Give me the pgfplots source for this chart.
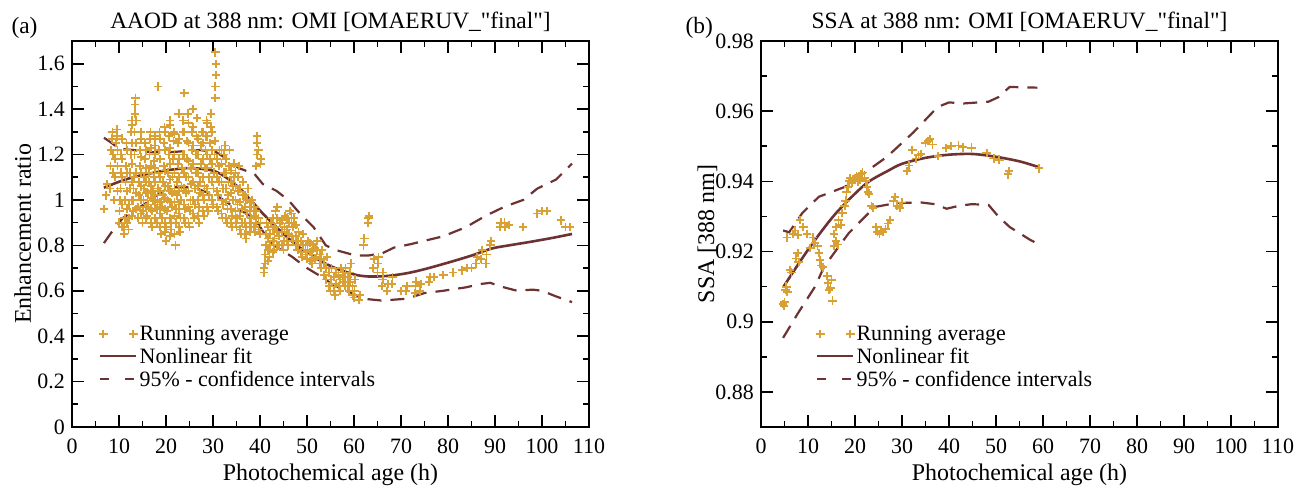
\documentclass[border=0pt]{standalone}
\usepackage{fontspec}
\setmainfont{Liberation Serif}[Ligatures=TeXOff]
\usepackage{pgfplots}
\pgfplotsset{compat=1.18}
\definecolor{gold}{HTML}{D9A033}
\definecolor{brn}{HTML}{6E3232}
\newcommand{\tickfont}{\fontsize{22}{26}\selectfont}
\newcommand{\labfont}{\fontsize{24}{28}\selectfont}
\newcommand{\titfont}{\fontsize{23.5}{28}\selectfont}
\pgfplotsset{
  panel/.style={
    scale only axis, width=517bp, height=386bp,
    xmin=0, xmax=110,
    xtick={0,10,...,110}, minor xtick={5,15,...,105},
    tick align=inside,
    major tick length=12bp, minor tick length=6bp,
    tick style={line width=1.6bp, black},
    axis line style={line width=2.4bp},
    /pgf/number format/assume math mode=true,
    tick label style={font=\tickfont},
    xticklabel style={anchor=base, yshift=-26bp, inner sep=0pt},
    yticklabel style={anchor=east, inner xsep=0pt, xshift=-7bp},
    xlabel style={font=\labfont, at={(axis description cs:0.5,0)}, anchor=base, yshift=-53bp},
    title style={font=\titfont, at={(axis description cs:0.5,1)}, anchor=base, yshift=7bp},
    legend cell align=left,
    legend style={draw=none, fill=none, font=\fontsize{22}{26}\selectfont, anchor=north west,
      row sep=2bp, inner sep=0pt, /tikz/every even column/.style={column sep=1bp}},
  },
  scat/.style={only marks, mark=+, color=gold, draw=gold, mark size=4.2bp, mark options={gold, solid, line width=1.8bp},
    legend image code/.code={\draw[gold] plot[only marks, mark=+, mark size=4.2bp, mark options={gold, solid, line width=1.8bp}] coordinates {(3bp,0bp) (33bp,0bp)};}},
  fit/.style={brn, line width=2.6bp, smooth, no marks,
    legend image code/.code={\draw[brn, line width=2.6bp] (0bp,0bp) -- (36bp,0bp);}},
  ci/.style={brn, line width=2.2bp, no marks, dash pattern=on 14bp off 9bp,
    legend image code/.code={\draw[brn, line width=2.2bp, dash pattern=on 9bp off 16bp] (0bp,0bp) -- (36bp,0bp);}},
}
\begin{document}
\begin{tikzpicture}
\begin{axis}[panel, at={(72bp,63bp)}, anchor=south west,
  ymin=0, ymax=1.7, ytick={0,0.2,...,1.6}, minor ytick={0.1,0.3,0.5,0.7,0.9,1.1,1.3,1.5},
  title={AAOD at 388 nm: OMI [OMAERUV\_"final"]},
  xlabel={Photochemical age (h)},
  ylabel={Enhancement ratio},
  ylabel style={font=\labfont, at={(axis description cs:0,0.5)}, anchor=base, yshift=41bp},
  legend style={at={(0.052,0.268)}},
  after end axis/.code={\node[font=\titfont, anchor=base west] at (rel axis cs:0,1) [xshift=-64bp, yshift=7bp] {(a)};},
]
\addplot[scat] coordinates {
(6.8,0.96) (7.2,1.02) (7.5,1.07)
(8.0,1.05) (8.2,1.15) (8.3,1.22) (8.5,1.27) (8.6,1.30)
(9.0,1.00) (9.1,1.10) (9.2,1.18) (9.3,1.25) (9.5,1.28) (9.6,1.31)
(10.0,0.90) (10.1,0.95) (10.2,1.00) (10.3,1.05) (10.4,1.12) (10.5,1.20) (10.6,1.27)
(11.0,0.85) (11.1,0.88) (11.2,0.92) (11.3,1.00) (11.4,1.08) (11.5,1.15) (11.6,1.25)
(12.0,0.87) (12.1,0.92) (12.2,0.98) (12.3,1.05) (12.4,1.12) (12.5,1.20) (12.6,1.30) (12.7,1.35)
(13.0,0.95) (13.0,1.00) (13.1,1.05) (13.2,1.10) (13.3,1.20) (13.3,1.30) (13.4,1.38) (13.4,1.42) (13.5,1.45)
(14.0,0.92) (14.1,0.97) (14.2,1.02) (14.3,1.08) (14.4,1.15) (14.5,1.22) (14.6,1.30)
(15.0,0.90) (15.1,0.95) (15.2,1.00) (15.3,1.05) (15.4,1.10) (15.5,1.18) (15.6,1.25)
(16.0,0.93) (16.1,0.98) (16.2,1.03) (16.3,1.08) (16.4,1.12) (16.5,1.20) (16.6,1.27) (16.7,1.30)
(17.0,0.88) (17.1,0.95) (17.2,1.00) (17.3,1.04) (17.4,1.10) (17.5,1.17) (17.6,1.24)
(18.0,0.90) (18.1,0.96) (18.2,1.00) (18.3,1.05) (18.4,1.12) (18.5,1.22) (18.6,1.30) (18.3,1.50)
(19.0,0.85) (19.1,0.92) (19.2,0.97) (19.3,1.02) (19.4,1.08) (19.5,1.15) (19.6,1.25) (19.7,1.32)
(20.0,0.82) (20.1,0.88) (20.2,0.95) (20.3,1.00) (20.4,1.06) (20.5,1.12) (20.6,1.20) (20.7,1.28) (20.8,1.35)
(21.0,0.87) (21.1,0.90) (21.2,0.97) (21.3,1.03) (21.4,1.10) (21.5,1.18) (21.6,1.26) (21.7,1.30)
(22.0,0.80) (22.1,0.90) (22.2,0.96) (22.3,1.02) (22.4,1.08) (22.5,1.16) (22.6,1.25) (22.7,1.38)
(23.0,0.86) (23.1,0.92) (23.2,1.00) (23.3,1.06) (23.4,1.14) (23.5,1.20) (23.6,1.30) (23.7,1.35)
(24.0,0.90) (24.1,0.96) (24.2,1.03) (24.3,1.10) (24.4,1.18) (24.5,1.26) (24.6,1.38) (23.9,1.47)
(25.0,0.88) (25.1,0.95) (25.2,1.00) (25.3,1.07) (25.4,1.14) (25.5,1.22) (25.6,1.30) (25.7,1.40)
(26.0,0.92) (26.1,0.98) (26.2,1.05) (26.3,1.12) (26.4,1.20) (26.5,1.28) (26.6,1.36)
(27.0,0.90) (27.1,0.97) (27.2,1.03) (27.3,1.08) (27.4,1.16) (27.5,1.24) (27.6,1.30)
(28.0,0.93) (28.1,1.00) (28.2,1.06) (28.3,1.14) (28.4,1.22) (28.5,1.28) (28.6,1.35)
(29.0,0.95) (29.1,1.02) (29.2,1.10) (29.3,1.18) (29.4,1.25) (29.5,1.32) (29.6,1.38)
(30.0,0.98) (30.1,1.05) (30.2,1.12) (30.3,1.20) (30.4,1.26) (30.5,1.45) (30.5,1.50) (30.6,1.55) (30.6,1.60) (30.5,1.65)
(31.0,0.95) (31.1,1.02) (31.2,1.08) (31.3,1.15) (31.4,1.22)
(32.0,0.92) (32.1,0.98) (32.2,1.05) (32.3,1.12) (32.4,1.20) (32.5,1.24)
(33.0,0.90) (33.1,0.96) (33.2,1.02) (33.3,1.08) (33.4,1.15) (33.5,1.22)
(34.0,0.88) (34.1,0.93) (34.2,1.00) (34.3,1.06) (34.4,1.10) (34.5,1.16)
(35.0,0.88) (35.1,0.92) (35.2,0.98) (35.3,1.04) (35.4,1.10) (35.5,1.15)
(36.0,0.85) (36.1,0.90) (36.2,0.96) (36.3,1.02) (36.4,1.08)
(37.0,0.83) (37.1,0.88) (37.2,0.94) (37.3,1.00) (37.4,1.05)
(38.0,0.88) (38.1,0.92) (38.2,0.97) (38.3,1.00)
(39.0,0.86) (39.1,0.90) (39.2,0.95) (39.2,1.15) (39.3,1.20) (39.3,1.25) (39.4,1.28)
(40.0,0.85) (40.1,0.90) (40.1,1.16) (40.2,1.18)
(40.8,0.68) (40.9,0.70) (41.0,0.72) (41.1,0.76) (41.2,0.80) (41.3,0.85) (41.4,0.90)
(42.0,0.75) (42.1,0.80) (42.2,0.85) (42.3,0.90)
(43.0,0.78) (43.1,0.83) (43.2,0.88) (43.3,0.95)
(44.0,0.80) (44.1,0.84) (44.2,0.90)
(45.0,0.78) (45.1,0.82) (45.2,0.88) (45.3,0.93)
(46.0,0.80) (46.1,0.85) (46.2,0.90) (46.3,0.95)
(47.0,0.82) (47.1,0.88) (47.2,0.92)
(48.0,0.78) (48.1,0.82) (48.2,0.86)
(49.0,0.75) (49.1,0.80) (49.2,0.85)
(50.0,0.74) (50.1,0.78) (50.2,0.82)
(51.0,0.72) (51.1,0.76) (51.2,0.80)
(52.0,0.75) (52.1,0.78) (52.2,0.82)
(53.0,0.70) (53.1,0.74) (53.2,0.78)
(54.0,0.65) (54.1,0.70) (54.2,0.75)
(55.0,0.60) (55.1,0.65) (55.2,0.70)
(56.0,0.58) (56.1,0.63) (56.2,0.68)
(57.0,0.60) (57.1,0.65) (57.2,0.70)
(58.0,0.62) (58.1,0.66) (58.2,0.70)
(59.0,0.60) (59.1,0.64) (59.2,0.68) (59.3,0.72)
(60.0,0.57) (60.1,0.60) (60.2,0.65)
(61.0,0.56) (61.2,0.58)
(62.0,0.80) (62.2,0.83)
(63.0,0.90) (63.1,0.92) (63.2,0.93)
(64.0,0.70) (64.2,0.74)
(65.0,0.68) (65.1,0.72) (65.2,0.75)
(66.0,0.62) (66.1,0.65) (66.2,0.68)
(67.0,0.60) (67.2,0.63)
(68.0,0.63) (68.2,0.66)
(70.0,0.60)
(71.0,0.60) (71.2,0.62)
(73.0,0.59) (73.1,0.62) (73.2,0.64)
(74.0,0.60) (74.2,0.63)
(76.0,0.64) (76.2,0.66)
(77.0,0.66) (79.0,0.67) (81.0,0.68) (83.0,0.69) (84.0,0.70) (85.0,0.70)
(86.0,0.72) (86.2,0.75) (87.0,0.74) (87.2,0.78) (88.0,0.72) (88.2,0.76)
(89.0,0.80) (89.2,0.82)
(91.0,0.88) (91.2,0.90) (92.0,0.90) (92.2,0.88) (93.0,0.89)
(96.0,0.88) (99.0,0.94) (100.0,0.95) (101.0,0.95)
(104.0,0.91) (105.0,0.88) (106.0,0.88)
(8.7,1.12) (8.7,1.20)
(9.7,1.04) (9.7,1.15) (9.7,1.22)
(10.7,0.88) (10.7,0.98) (10.7,1.10) (10.7,1.18)
(11.7,0.90) (11.7,0.96) (11.7,1.04) (11.7,1.12) (11.7,1.22)
(12.8,0.93) (12.8,1.00) (12.8,1.08) (12.8,1.16) (12.8,1.25) (12.8,1.33)
(13.7,0.96) (13.7,1.03) (13.7,1.12) (13.7,1.25) (13.7,1.35)
(14.7,0.94) (14.7,1.00) (14.7,1.06) (14.7,1.12) (14.7,1.19) (14.7,1.27)
(15.7,0.92) (15.7,0.97) (15.7,1.03) (15.7,1.08) (15.7,1.14) (15.7,1.22)
(16.8,0.90) (16.8,0.96) (16.8,1.01) (16.8,1.06) (16.8,1.15) (16.8,1.23)
(17.7,0.92) (17.7,0.98) (17.7,1.02) (17.7,1.08) (17.7,1.14) (17.7,1.20) (17.7,1.28)
(18.8,0.88) (18.8,0.94) (18.8,0.99) (18.8,1.04) (18.8,1.10) (18.8,1.18) (18.8,1.27)
(19.8,0.86) (19.8,0.90) (19.8,0.96) (19.8,1.01) (19.8,1.06) (19.8,1.13) (19.8,1.22) (19.8,1.30)
(20.9,0.84) (20.9,0.92) (20.9,0.99) (20.9,1.04) (20.9,1.09) (20.9,1.16) (20.9,1.23) (20.9,1.33)
(21.8,0.85) (21.8,0.93) (21.8,0.99) (21.8,1.05) (21.8,1.12) (21.8,1.20) (21.8,1.29)
(22.8,0.88) (22.8,0.94) (22.8,0.98) (22.8,1.04) (22.8,1.10) (22.8,1.18) (22.8,1.27)
(23.8,0.92) (23.8,0.98) (23.8,1.05) (23.8,1.12) (23.8,1.20) (23.8,1.30)
(24.8,0.90) (24.8,0.97) (24.8,1.04) (24.8,1.10) (24.8,1.17) (24.8,1.25) (24.8,1.34)
(25.8,0.94) (25.8,1.00) (25.8,1.08) (25.8,1.16) (25.8,1.24) (25.8,1.32)
(26.8,0.93) (26.8,1.00) (26.8,1.06) (26.8,1.12) (26.8,1.20) (26.8,1.27)
(27.8,0.95) (27.8,1.02) (27.8,1.10) (27.8,1.18) (27.8,1.25) (27.8,1.30)
(28.8,0.97) (28.8,1.05) (28.8,1.14) (28.8,1.20) (28.8,1.28) (28.8,1.34)
(29.8,1.00) (29.8,1.08) (29.8,1.16) (29.8,1.22) (29.8,1.30)
(30.8,0.97) (30.8,1.04) (30.8,1.10) (30.8,1.18)
(31.8,0.94) (31.8,1.00) (31.8,1.08) (31.8,1.16) (31.8,1.22)
(32.8,0.92) (32.8,0.99) (32.8,1.05) (32.8,1.12) (32.8,1.18)
(33.8,0.90) (33.8,0.96) (33.8,1.03) (33.8,1.08) (33.8,1.13)
(34.8,0.90) (34.8,0.95) (34.8,1.00) (34.8,1.06) (34.8,1.12)
(35.8,0.87) (35.8,0.93) (35.8,0.99) (35.8,1.05)
(36.8,0.85) (36.8,0.90) (36.8,0.97) (36.8,1.02)
(37.8,0.86) (37.8,0.90) (37.8,0.95) (37.8,0.99)
(38.8,0.88) (38.8,0.93) (38.8,0.97)
(39.7,0.87) (39.7,0.92) (39.7,1.22)
(41.7,0.73) (41.7,0.78) (41.7,0.83) (41.7,0.88)
(42.7,0.77) (42.7,0.82) (42.7,0.87) (42.7,0.92)
(43.7,0.80) (43.7,0.86) (43.7,0.92) (43.7,0.97)
(44.7,0.80) (44.7,0.86) (44.7,0.91)
(45.7,0.82) (45.7,0.87) (45.7,0.92)
(46.7,0.84) (46.7,0.90) (46.7,0.94)
(47.7,0.80) (47.7,0.84) (47.7,0.89)
(48.7,0.77) (48.7,0.82) (49.7,0.76) (49.7,0.80)
(50.7,0.73) (50.7,0.77) (50.7,0.81) (51.7,0.74) (51.7,0.79)
(52.7,0.72) (52.7,0.76) (53.7,0.67) (53.7,0.72)
(54.7,0.62) (54.7,0.68) (55.7,0.60) (55.7,0.66)
(56.7,0.62) (56.7,0.67) (57.7,0.64) (57.7,0.68)
(58.7,0.62) (58.7,0.66) (59.7,0.58) (59.7,0.62)
};
\addlegendentry{Running average}
\addplot[fit] coordinates {
(6.8,1.054) (10,1.08) (13,1.10) (16.2,1.115) (20,1.13) (24.3,1.14) (27,1.138) (29.8,1.13)
(32,1.11) (35.2,1.06) (38,1.0) (40.6,0.94) (44,0.87) (47.8,0.80) (50,0.77) (53,0.73)
(56,0.70) (60,0.672) (63,0.663) (67,0.665) (71.2,0.677) (75,0.695) (80.2,0.725) (85,0.755)
(89.3,0.786) (93,0.80) (97.4,0.815) (102,0.832) (106.4,0.85)
};
\addlegendentry{Nonlinear fit}
\addplot[ci] coordinates {
(6.8,1.274) (8.5,1.25) (10,1.225) (13,1.22) (17,1.21) (20.7,1.21) (24,1.215) (27.1,1.22)
(30.7,1.21) (33,1.18) (35.5,1.14) (38.8,1.115) (40.6,1.07) (43.5,1.04) (46,1.0) (48.5,0.94)
(51.4,0.88) (54,0.80) (56,0.78) (59.5,0.76) (61,0.755) (63,0.755) (66,0.765) (68.5,0.79)
(72,0.805) (75,0.82) (79,0.84) (83.8,0.88) (88,0.93) (92,0.97) (96,1.0) (99,1.05) (103,1.09) (106.4,1.16)
};
\addlegendentry{95\% - confidence intervals}
\addplot[ci, forget plot] coordinates {
(6.8,0.81) (8.5,0.86) (10.8,0.92) (13,0.95) (15.3,0.98) (18,1.02) (20.7,1.055) (23,1.058)
(26,1.055) (28.5,1.035) (31.5,1.01) (34,0.975) (37,0.94) (38.8,0.92) (41,0.85) (43,0.80)
(46.8,0.75) (50,0.70) (53.2,0.66) (56,0.62) (59.5,0.59) (62,0.565) (65.8,0.557) (68,0.56)
(71.2,0.565) (75,0.59) (79,0.60) (83.8,0.615) (87,0.63) (89,0.635) (91,0.62) (94.7,0.60)
(98,0.605) (100,0.60) (103,0.575) (106.4,0.55)
};
\end{axis}
\begin{axis}[panel, at={(761bp,63bp)}, anchor=south west,
  ymin=0.87, ymax=0.98, ytick={0.88,0.9,0.92,0.94,0.96,0.98}, minor ytick={0.87,0.89,0.91,0.93,0.95,0.97},
  yticklabel style={/pgf/number format/fixed},
  title={SSA at 388 nm: OMI [OMAERUV\_"final"]},
  xlabel={Photochemical age (h)},
  ylabel={SSA [388 nm]},
  ylabel style={font=\labfont, at={(axis description cs:0,0.5)}, anchor=base, yshift=47bp},
  legend style={at={(0.106,0.268)}},
  after end axis/.code={\node[font=\titfont, anchor=base west] at (rel axis cs:0,1) [xshift=-79bp, yshift=7bp] {(b)};},
]
\addplot[scat] coordinates {
(4.7,0.9050) (4.9,0.9045) (5.0,0.9056) (5.2,0.909) (5.4,0.910) (5.6,0.9085) (6.2,0.9147) (6.5,0.914)
(7.5,0.918) (7.8,0.9195) (8.0,0.917) (5.5,0.924) (6.8,0.925) (7.2,0.926) (7.9,0.9247) (8.3,0.929)
(9.0,0.927) (9.8,0.925) (10.5,0.921) (11.0,0.924) (11.5,0.9225) (12.0,0.9215) (12.3,0.9195) (12.5,0.9175)
(12.8,0.916) (13.2,0.9155) (14.0,0.913) (14.3,0.911) (14.5,0.909) (14.8,0.9095) (15.0,0.912) (15.2,0.906)
(15.6,0.9215) (16.0,0.923) (16.3,0.922) (15.5,0.925) (16.0,0.927) (16.5,0.929) (17.0,0.9275) (17.3,0.931)
(17.8,0.933) (18.0,0.9345) (18.2,0.937) (18.5,0.9385) (18.8,0.940) (19.0,0.941) (19.3,0.9395) (19.6,0.9405)
(20.0,0.941) (20.3,0.9415) (20.6,0.940) (21.0,0.9405) (21.3,0.942) (21.6,0.9425) (22.0,0.941) (22.3,0.940)
(22.5,0.9385) (22.8,0.937) (23.0,0.9365) (23.5,0.933) (23.8,0.9325) (24.5,0.927) (24.8,0.9255) (25.2,0.925)
(25.5,0.926) (26.0,0.9255) (26.5,0.9265) (27.0,0.928) (27.5,0.929) (28.2,0.9345) (28.5,0.9355) (29.0,0.933)
(29.5,0.9325) (30.0,0.934) (31.0,0.943) (31.5,0.9445) (32.2,0.949) (33.0,0.9465) (33.5,0.9475) (34.0,0.9478)
(35.0,0.951) (35.5,0.9515) (36.0,0.952) (36.5,0.9505) (37.6,0.9472) (39.4,0.9495) (40.5,0.950) (42.0,0.9502)
(43.0,0.9497) (44.8,0.9496) (48.0,0.948) (49.5,0.9465) (50.7,0.9462) (52.5,0.942) (52.8,0.943) (59.2,0.9437)
};
\addlegendentry{Running average}
\addplot[fit] coordinates {
(4.8,0.910) (7,0.9145) (10,0.9205) (13,0.926) (16,0.931) (20,0.9365) (23,0.940) (27,0.943)
(30,0.945) (35,0.9467) (40,0.9476) (45,0.9478) (50,0.947) (55,0.9457) (59,0.9441)
};
\addlegendentry{Nonlinear fit}
\addplot[ci] coordinates {
(4.7,0.926) (6,0.9255) (8.8,0.931) (12.3,0.9356) (17.8,0.9384) (22.3,0.9427) (26.8,0.947)
(32.3,0.9538) (37.6,0.9612) (40,0.9625) (43.1,0.9622) (48.4,0.9627) (50.5,0.964) (52.9,0.9669) (58.8,0.9667)
};
\addlegendentry{95\% - confidence intervals}
\addplot[ci, forget plot] coordinates {
(4.7,0.8954) (7.9,0.9025) (11.5,0.910) (13.4,0.9156) (16,0.9204) (18.7,0.9253) (24.2,0.9327)
(28.7,0.9338) (34,0.934) (37,0.9335) (39.5,0.9322) (42,0.933) (44.8,0.9335) (48.4,0.9333)
(50.5,0.930) (52.9,0.927) (57.3,0.9233) (59.2,0.922)
};
\end{axis}
\pgfresetboundingbox
\path (0bp,0bp) rectangle (1309bp,490bp);
\end{tikzpicture}
\end{document}
